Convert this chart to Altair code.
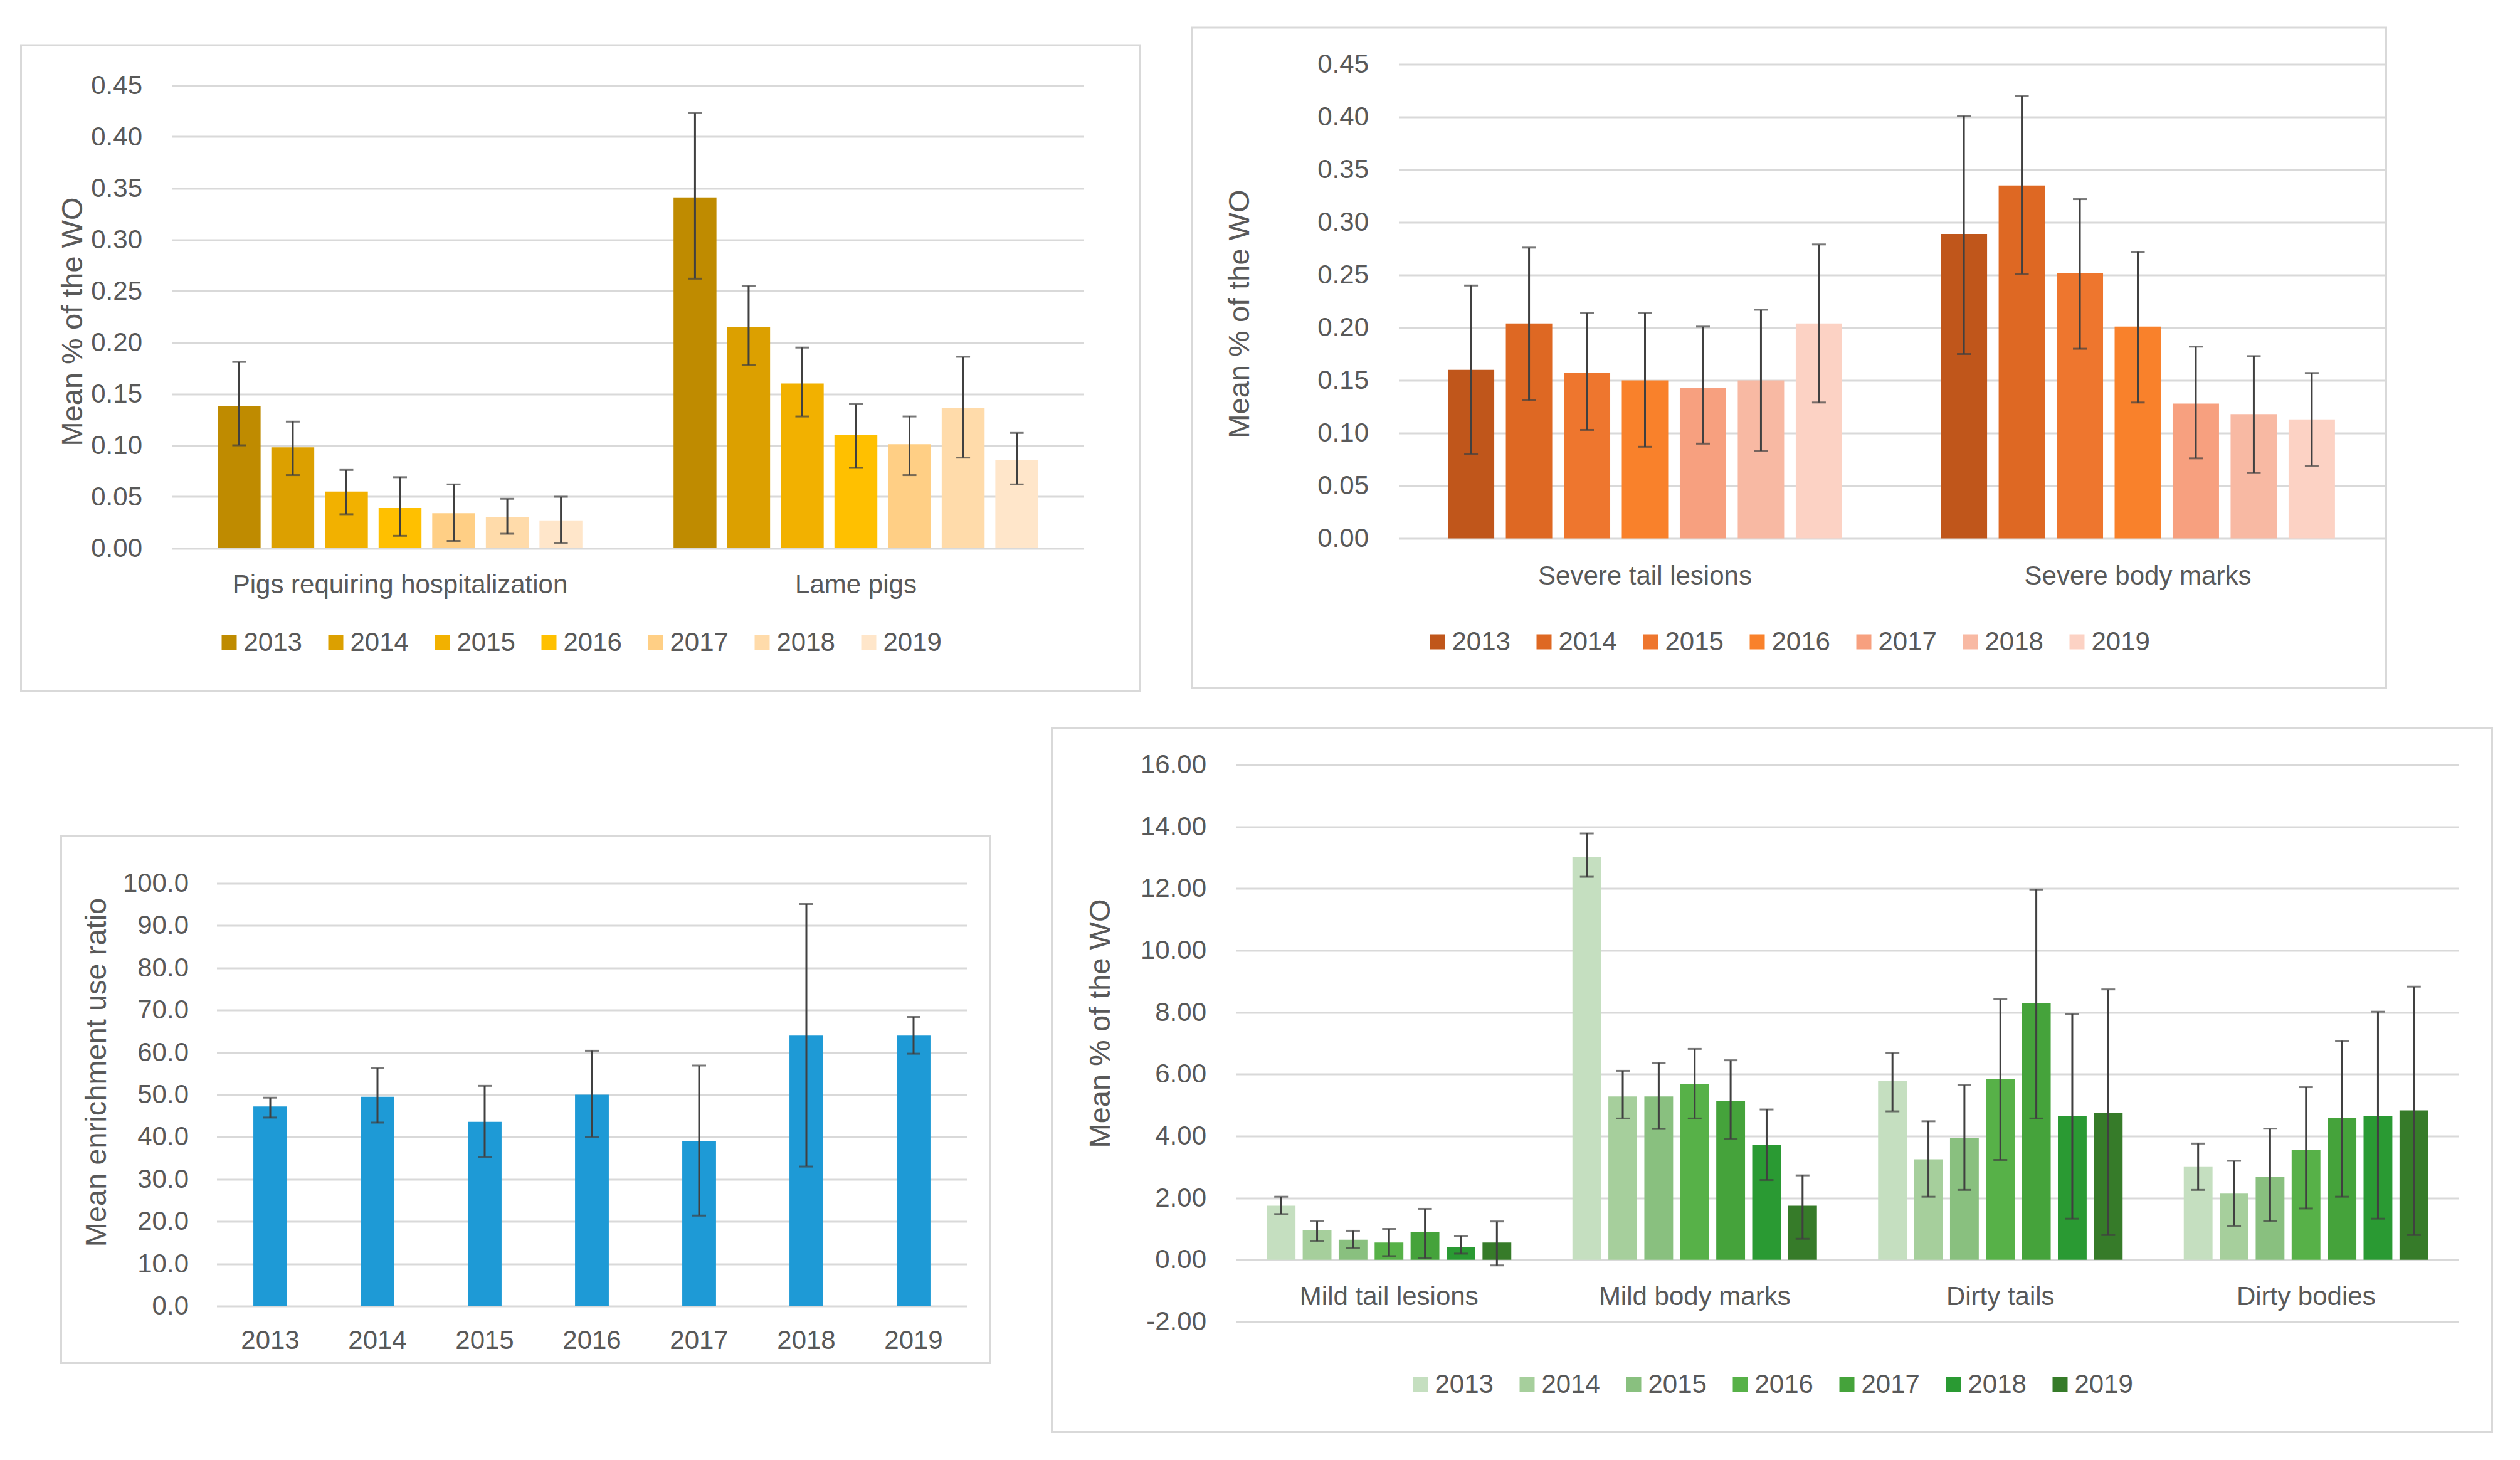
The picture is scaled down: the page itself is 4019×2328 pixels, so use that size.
import altair as alt
import pandas as pd

FONT = "Liberation Sans"
TXT = "#595959"
GRID = "#D9D9D9"
ERR = "#404040"

YEARS = ["2013", "2014", "2015", "2016", "2017", "2018", "2019"]

# Hospitalisation and lameness (mean % of the WO, with error bounds)
A_CATS = ["Pigs requiring hospitalization", "Lame pigs"]
A_MEAN = [[0.138, 0.098, 0.055, 0.039, 0.034, 0.030, 0.027],
          [0.341, 0.215, 0.160, 0.110, 0.101, 0.136, 0.086]]
A_LO = [[0.100, 0.071, 0.033, 0.012, 0.007, 0.014, 0.005],
        [0.262, 0.178, 0.128, 0.078, 0.071, 0.088, 0.062]]
A_HI = [[0.181, 0.123, 0.076, 0.069, 0.062, 0.048, 0.050],
        [0.423, 0.255, 0.195, 0.140, 0.128, 0.186, 0.112]]
A_COLORS = ["#BF8B00", "#DCA000", "#F2B100", "#FFC000", "#FFCF85", "#FFDBAA", "#FFE6CA"]

# Severe lesions
B_CATS = ["Severe tail lesions", "Severe body marks"]
B_MEAN = [[0.160, 0.204, 0.157, 0.150, 0.143, 0.150, 0.204],
          [0.289, 0.335, 0.252, 0.201, 0.128, 0.118, 0.113]]
B_LO = [[0.080, 0.131, 0.103, 0.087, 0.090, 0.083, 0.129],
        [0.175, 0.251, 0.180, 0.129, 0.076, 0.062, 0.069]]
B_HI = [[0.240, 0.276, 0.214, 0.214, 0.201, 0.217, 0.279],
        [0.401, 0.420, 0.322, 0.272, 0.182, 0.173, 0.157]]
B_COLORS = ["#C0561B", "#DE6823", "#EE762E", "#F9812B", "#F7A07F", "#F8B9A3", "#FCD2C4"]

# Enrichment use ratio per year
C_MEAN = [47.2, 49.5, 43.6, 50.0, 39.1, 64.0, 64.0]
C_LO = [44.6, 43.4, 35.3, 40.0, 21.4, 33.0, 59.7]
C_HI = [49.3, 56.3, 52.1, 60.4, 56.9, 95.1, 68.4]
C_COLOR = "#1E9AD6"

# Mild lesions and dirtiness
D_CATS = ["Mild tail lesions", "Mild body marks", "Dirty tails", "Dirty bodies"]
D_MEAN = [[1.75, 0.97, 0.65, 0.56, 0.89, 0.41, 0.56],
          [13.03, 5.28, 5.28, 5.68, 5.13, 3.71, 1.75],
          [5.78, 3.25, 3.95, 5.84, 8.29, 4.66, 4.75],
          [3.00, 2.14, 2.69, 3.56, 4.59, 4.66, 4.83]]
D_LO = [[1.48, 0.60, 0.38, 0.12, 0.05, 0.20, -0.18],
        [12.38, 4.57, 4.23, 4.57, 3.91, 2.58, 0.68],
        [4.80, 2.04, 2.26, 3.23, 4.57, 1.33, 0.80],
        [2.26, 1.10, 1.25, 1.66, 2.04, 1.33, 0.80]]
D_HI = [[2.04, 1.25, 0.94, 1.00, 1.65, 0.77, 1.24],
        [13.78, 6.11, 6.37, 6.82, 6.45, 4.86, 2.73],
        [6.69, 4.48, 5.65, 8.42, 11.97, 7.95, 8.74],
        [3.76, 3.20, 4.24, 5.58, 7.08, 8.02, 8.83]]
D_COLORS = ["#C5DFC0", "#A6CF9C", "#89C07F", "#57B148", "#45A33B", "#2A9A33", "#367B29"]

TICKS_SMALL = [0.00, 0.05, 0.10, 0.15, 0.20, 0.25, 0.30, 0.35, 0.40, 0.45]
TICKS_RATIO = [0, 10, 20, 30, 40, 50, 60, 70, 80, 90, 100]
TICKS_MILD = [-2, 0, 2, 4, 6, 8, 10, 12, 14, 16]


def long_table(cats, means, los, his):
    rows = []
    for c, m, l, h in zip(cats, means, los, his):
        for y, mv, lv, hv in zip(YEARS, m, l, h):
            rows.append({"cat": c, "year": y, "mean": mv, "lo": lv, "hi": hv})
    return pd.DataFrame(rows)


def box(x1, x2, y1, y2):
    """Light grey border drawn around one panel (axes and legend included)."""
    one = alt.Data(values=[{"k": 0}])
    return alt.Chart(one).mark_rect(fillOpacity=0, stroke=GRID, strokeWidth=3).encode(
        x=alt.value(x1), x2=alt.value(x2), y=alt.value(y1), y2=alt.value(y2))


def y_axis(ticks, fmt, title, tx, ty, pad=48):
    # plain hyphen for negative tick labels
    expr = (f"datum.value < 0 ? '-' + format(-datum.value, '{fmt}') "
            f": format(datum.value, '{fmt}')")
    return alt.Axis(values=ticks, labelExpr=expr, title=title, grid=True, gridColor=GRID,
                    gridWidth=3, domain=False, ticks=False, labelPadding=pad,
                    labelFontSize=42, labelColor=TXT, labelFont=FONT,
                    titleFontSize=47, titleColor=TXT, titleFont=FONT,
                    titleFontWeight="normal", titleX=tx, titleY=ty)


def x_axis(pad, offset=0):
    return alt.Axis(title=None, labelAngle=0, domain=False, ticks=False, grid=False,
                    labelPadding=pad, labelFontSize=42, labelColor=TXT, labelFont=FONT,
                    labelLimit=0, offset=offset)


def grouped_panel(df, cats, colors, W, H, yrange, domain, ticks, fmt, ytitle, title_xy,
                  legend_xy, xpad, frame, xoffset=0):
    xaxis = x_axis(xpad, xoffset)
    yaxis = y_axis(ticks, fmt, ytitle, *title_xy)
    xsc = alt.Scale(paddingInner=0.2, paddingOuter=0.1)
    osc = alt.Scale(paddingInner=0.2, paddingOuter=0)
    ysc = alt.Scale(domain=domain, nice=False, range=yrange)
    X = alt.X("cat:N", sort=cats, scale=xsc, axis=xaxis)
    XO = alt.XOffset("year:N", sort=YEARS, scale=osc)
    base = alt.Chart(df)
    bars = base.mark_bar().encode(
        x=X, xOffset=XO,
        y=alt.Y("mean:Q", scale=ysc, axis=yaxis),
        color=alt.Color("year:N", scale=alt.Scale(domain=YEARS, range=colors),
                        legend=alt.Legend(title=None, orient="none",
                                          legendX=legend_xy[0], legendY=legend_xy[1],
                                          direction="horizontal", symbolType="square",
                                          symbolSize=576, symbolStrokeWidth=0,
                                          labelFontSize=42, labelColor=TXT, labelFont=FONT,
                                          labelOffset=2, columnPadding=32, padding=0)),
    )
    rules = base.mark_rule(color=ERR, strokeWidth=3).encode(
        x=X, xOffset=XO, y=alt.Y("lo:Q", scale=ysc, axis=yaxis), y2=alt.Y2("hi:Q"))
    cap_lo = base.mark_tick(color=ERR, thickness=3, size=22, orient="horizontal").encode(
        x=X, xOffset=XO, y=alt.Y("lo:Q", scale=ysc, axis=yaxis))
    cap_hi = base.mark_tick(color=ERR, thickness=3, size=22, orient="horizontal").encode(
        x=X, xOffset=XO, y=alt.Y("hi:Q", scale=ysc, axis=yaxis))
    return alt.layer(box(*frame), bars, rules, cap_lo, cap_hi).properties(width=W, height=H)


# Top left: hospitalisation and lameness (plot area starts 33.5 px above the 0.45 line)
HA = 771.5
pA = grouped_panel(long_table(A_CATS, A_MEAN, A_LO, A_HI), A_CATS, A_COLORS,
                   1454, HA, [HA, 33.5], [0, 0.45], TICKS_SMALL, ".2f", "Mean % of the WO",
                   (-134, 410), (70, 901.5), 38,
                   frame=(-241, 1543, -30.5, 999.5))

# Top right: severe lesions
HB = 756
pB = grouped_panel(long_table(B_CATS, B_MEAN, B_LO, B_HI), B_CATS, B_COLORS,
                   1572, HB, [HB, 0], [0, 0.45], TICKS_SMALL, ".2f", "Mean % of the WO",
                   (-229, 398), (41, 900), 40,
                   frame=(-330, 1575, -58.5, 994.5))

# Bottom left: enrichment use ratio (bars and grid start 71 px right of the view origin)
dfC = pd.DataFrame({"year": YEARS, "mean": C_MEAN, "lo": C_LO, "hi": C_HI})
WC, HC = 1268, 863
xC = alt.X("year:N", sort=YEARS,
           scale=alt.Scale(paddingInner=0.685, paddingOuter=0.3425, range=[71, WC]),
           axis=x_axis(35))
ysC = alt.Scale(domain=[0, 100], nice=False, range=[HC, 189])
yaC = y_axis(TICKS_RATIO, ".1f", "Mean enrichment use ratio", -96, 490, pad=-26)
baseC = alt.Chart(dfC)
pC = alt.layer(
    box(-177, 1305, 114, 954),
    baseC.mark_bar(color=C_COLOR).encode(x=xC, y=alt.Y("mean:Q", scale=ysC, axis=yaC)),
    baseC.mark_rule(color=ERR, strokeWidth=3).encode(
        x=xC, y=alt.Y("lo:Q", scale=ysC, axis=yaC), y2=alt.Y2("hi:Q")),
    baseC.mark_tick(color=ERR, thickness=3, size=22, orient="horizontal").encode(
        x=xC, y=alt.Y("lo:Q", scale=ysC, axis=yaC)),
    baseC.mark_tick(color=ERR, thickness=3, size=22, orient="horizontal").encode(
        x=xC, y=alt.Y("hi:Q", scale=ysC, axis=yaC)),
).properties(width=WC, height=HC)

# Bottom right: mild lesions and dirtiness (category labels sit under the zero line)
HD = 888
pD = grouped_panel(long_table(D_CATS, D_MEAN, D_LO, D_HI), D_CATS, D_COLORS,
                   1950, HD, [HD, 0], [-2, 16], TICKS_MILD, ".2f", "Mean % of the WO",
                   (-192, 412), (273, 967), 39,
                   frame=(-294, 2003, -58, 1064), xoffset=-HD * 2 / 18)

res = dict(color="independent", xOffset="independent")
row1 = alt.hconcat(pA, pB, spacing=79).resolve_scale(**res)
row2 = alt.hconcat(pC, pD, spacing=94).resolve_scale(**res)
chart = (
    alt.vconcat(row1, row2, spacing=56)
    .resolve_scale(**res)
    .properties(padding={"left": 31.5, "top": 42.5, "right": 0, "bottom": 0},
                background="white")
    .configure(font=FONT)
    .configure_view(stroke=None)
)

chart.save("out.html", embed_options={"renderer": "svg", "actions": False})
